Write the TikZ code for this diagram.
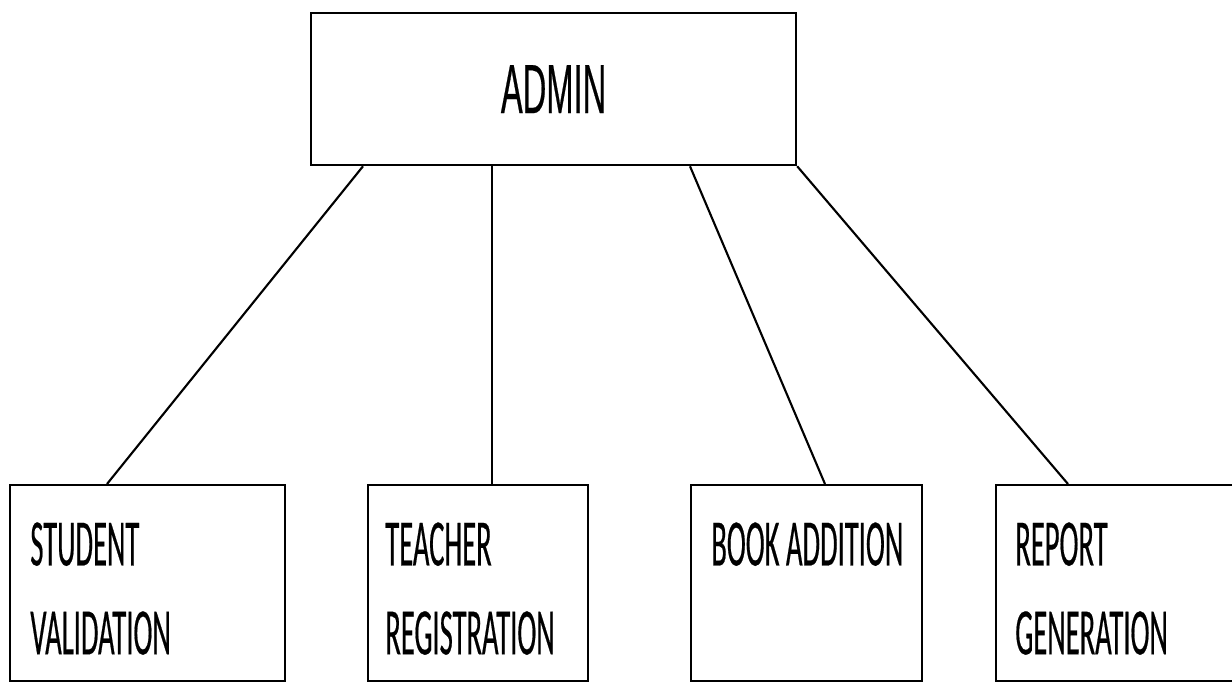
\documentclass[tikz,border=0pt]{standalone}
\usepackage{fontspec}
\usetikzlibrary{calc}
\newfontfamily\boxfont[FakeStretch=0.43,FakeBold=0.3]{Carlito}
\newfontfamily\headfont[FakeStretch=0.47,FakeBold=0.3]{Liberation Sans}

\tikzset{
  module/.style={draw, line width=1.3pt, anchor=north west, minimum height=3.92cm, inner sep=0pt},
  modlabel/.style={anchor=north west, inner sep=0pt, align=left,
    font=\boxfont\fontsize{37.8}{50.6}\selectfont},
  link/.style={line width=1.2pt}
}

\begin{document}
\begin{tikzpicture}[x=0.02cm, y=-0.02cm]
  \useasboundingbox (0,0) rectangle (1232,681);
  \clip (0,0) rectangle (1232,681);
  \fill[white] (0,0) rectangle (1232,681);
  % top box
  \node[draw, line width=1.3pt, anchor=north west, minimum width=9.7cm, minimum height=3.04cm,
    font=\headfont\fontsize{39.6}{44}\selectfont] (admin) at (310,12) {ADMIN};
  % modules
  \node[module, minimum width=5.5cm] (student) at (9,484) {};
  \node[module, minimum width=4.4cm] (teacher) at (367,484) {};
  \node[module, minimum width=4.62cm] (book) at (690,484) {};
  \node[module, minimum width=4.9cm] (report) at (995,484) {};
  \node[modlabel] (studentlbl) at ($(student.north west)+(21,38)$) {STUDENT\\VALIDATION};
  \node[modlabel] (teacherlbl) at ($(teacher.north west)+(18,38)$) {TEACHER\\REGISTRATION};
  \node[modlabel] (booklbl) at ($(book.north west)+(21,38)$) {BOOK ADDITION};
  \node[modlabel] (reportlbl) at ($(report.north west)+(20,38)$) {REPORT\\GENERATION};
  % links
  \draw[link] ($(admin.south west)+(53,0)$) -- ($(student.north west)+(98,0)$);
  \draw[line width=0.8pt] ($(admin.south west)+(182,0)$) -- ($(teacher.north west)+(125,0)$);
  \draw[link] ($(admin.south west)+(380,0)$) -- ($(book.north west)+(135,0)$);
  \draw[link] (admin.south east) -- ($(report.north west)+(73,0)$);
\end{tikzpicture}
\end{document}
